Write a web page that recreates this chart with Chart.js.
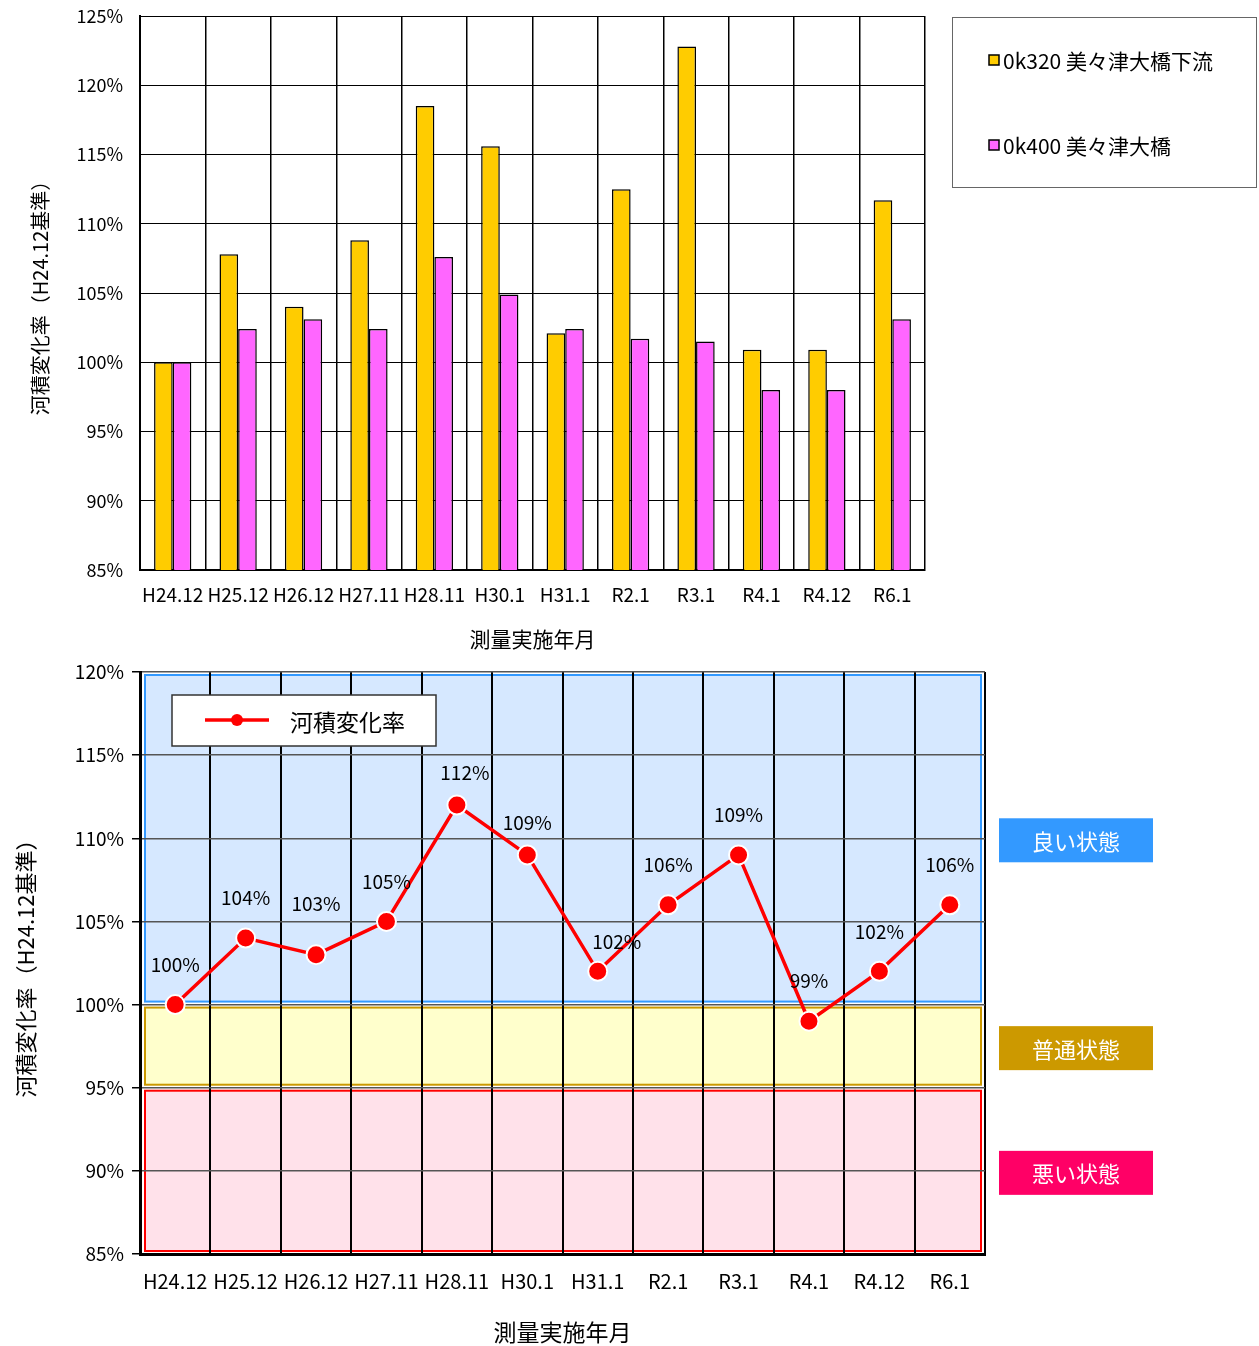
<!DOCTYPE html>
<html>
<head>
<meta charset="utf-8">
<script src="https://cdn.jsdelivr.net/npm/chart.js"></script>
<style>
body{margin:0;background:#fff;}
#box1{position:absolute;left:0;top:0;width:1259px;height:656px;}
#box2{position:absolute;left:0;top:656px;width:1259px;height:690px;}
</style>
</head>
<body>
<div id="box1"><canvas id="barChart"></canvas></div>
<div id="box2"><canvas id="lineChart"></canvas></div>
<script>
var categories = ["H24.12", "H25.12", "H26.12", "H27.11", "H28.11", "H30.1", "H31.1", "R2.1", "R3.1", "R4.1", "R4.12", "R6.1"];
var seriesNames = ["0k320 美々津大橋下流", "0k400 美々津大橋"];
var downstream = [100, 107.8, 104.0, 108.8, 118.5, 115.6, 102.1, 112.5, 122.8, 100.9, 100.9, 111.7];
var bridge = [100, 102.4, 103.1, 102.4, 107.6, 104.9, 102.4, 101.7, 101.5, 98.0, 98.0, 103.1];
var rateName = "河積変化率";
var rateValues = [100, 104, 103, 105, 112, 109, 102, 106, 109, 99, 102, 106];
var bandNames = ["良い状態", "普通状態", "悪い状態"];
var bandLow = [100, 95, 85];
var bandHigh = [120, 100, 95];
var yTitle = "河積変化率（H24.12基準）";
var xTitle = "測量実施年月";

var FONT = "'Noto Sans CJK JP', sans-serif";
Chart.defaults.font.family = FONT;
Chart.defaults.color = '#000';

// fixed axis width, and no extra room above the top tick label
function fixYAxis(s) {
  s.width = 140;
  s.paddingTop = 0;
  s.paddingBottom = 0;
}

// legend box on the right of the bar chart
var barLegend = {
  id: 'barLegend',
  afterDraw: function(chart) {
    var ctx = chart.ctx, a = chart.chartArea;
    var x = a.right + 27, y = a.top + 1;
    ctx.save();
    ctx.strokeStyle = '#666';
    ctx.lineWidth = 1;
    ctx.strokeRect(x + 0.5, y + 0.5, 304, 170);
    ctx.font = '21px ' + FONT;
    ctx.textBaseline = 'middle';
    chart.data.datasets.forEach(function(ds, i) {
      var cy = y + 43 + i * 85;
      ctx.fillStyle = ds.backgroundColor;
      ctx.fillRect(x + 37, cy - 5, 10, 10);
      ctx.strokeStyle = '#000';
      ctx.lineWidth = 1.5;
      ctx.strokeRect(x + 37, cy - 5, 10, 10);
      ctx.fillStyle = '#000';
      ctx.fillText(ds.label, x + 51, cy + 1);
    });
    ctx.restore();
  }
};

new Chart("barChart", {
  type: "bar",
  data: {
    labels: categories,
    datasets: [{
      label: seriesNames[0],
      data: downstream,
      backgroundColor: "#ffcc00",
      borderColor: "#000",
      borderWidth: 1.5,
      borderSkipped: false
    }, {
      label: seriesNames[1],
      data: bridge,
      backgroundColor: "#ff66ff",
      borderColor: "#000",
      borderWidth: 1.5,
      borderSkipped: false
    }]
  },
  plugins: [barLegend],
  options: {
    responsive: true,
    maintainAspectRatio: false,
    animation: false,
    devicePixelRatio: 1,
    layout: {padding: {top: 16, right: 334, left: 0, bottom: 0}},
    datasets: {bar: {barPercentage: 1, categoryPercentage: 0.57}},
    plugins: {legend: {display: false}, tooltip: {enabled: false}},
    scales: {
      x: {
        offset: true,
        grid: {offset: true, color: '#000', lineWidth: 1.5, drawTicks: false},
        border: {color: '#000', width: 2},
        ticks: {font: {size: 19}, padding: 13, autoSkip: false, maxRotation: 0},
        title: {display: true, text: xTitle, font: {size: 21}, padding: {top: 0, bottom: 4}},
        afterFit: function(s) { s.height = 86; }
      },
      y: {
        min: 85, max: 125,
        grid: {color: '#000', lineWidth: 1, drawTicks: false},
        border: {color: '#000', width: 2},
        ticks: {stepSize: 5, font: {size: 18}, padding: 17, callback: function(v) { return v + '%'; }},
        title: {display: true, text: yTitle, font: {size: 20}, padding: {top: 28, bottom: 0}},
        afterFit: fixYAxis
      }
    }
  }
});

// condition bands behind the grid, state tags to the right
var bandColors = [
  {fill: '#d6e8ff', line: '#3399ff', tag: '#3399ff'},
  {fill: '#ffffcc', line: '#cc9900', tag: '#cc9900'},
  {fill: '#ffe1ea', line: '#ff0000', tag: '#ff0066'}
];
var bands = {
  id: 'bands',
  beforeDraw: function(chart) {
    var ctx = chart.ctx, a = chart.chartArea, ys = chart.scales.y;
    ctx.save();
    bandNames.forEach(function(n, i) {
      var top = ys.getPixelForValue(bandHigh[i]) + 3;
      var bot = ys.getPixelForValue(bandLow[i]) - 3;
      ctx.fillStyle = bandColors[i].fill;
      ctx.fillRect(a.left + 5, top, a.right - a.left - 9, bot - top);
      ctx.strokeStyle = bandColors[i].line;
      ctx.lineWidth = 2;
      ctx.strokeRect(a.left + 5, top, a.right - a.left - 9, bot - top);
    });
    ctx.restore();
  },
  afterDraw: function(chart) {
    var ctx = chart.ctx, a = chart.chartArea, ys = chart.scales.y;
    ctx.save();
    ctx.font = '22px ' + FONT;
    ctx.textAlign = 'center';
    ctx.textBaseline = 'middle';
    bandNames.forEach(function(n, i) {
      var cy = ys.getPixelForValue((bandHigh[i] + bandLow[i]) / 2) + 2;
      ctx.fillStyle = bandColors[i].tag;
      ctx.fillRect(a.right + 14, cy - 22, 154, 44);
      ctx.fillStyle = '#fff';
      ctx.fillText(n, a.right + 91, cy + 1);
    });
    // legend inside plot
    var lx = a.left + 32, ly = a.top + 23;
    ctx.fillStyle = '#fff';
    ctx.fillRect(lx, ly, 264, 51);
    ctx.strokeStyle = '#333';
    ctx.lineWidth = 1.5;
    ctx.strokeRect(lx, ly, 264, 51);
    ctx.strokeStyle = '#ff0000';
    ctx.lineWidth = 3.5;
    ctx.beginPath();
    ctx.moveTo(lx + 33, ly + 25);
    ctx.lineTo(lx + 97, ly + 25);
    ctx.stroke();
    ctx.fillStyle = '#ff0000';
    ctx.beginPath();
    ctx.arc(lx + 65, ly + 25, 6, 0, Math.PI * 2);
    ctx.fill();
    ctx.fillStyle = '#000';
    ctx.font = '23px ' + FONT;
    ctx.textAlign = 'left';
    ctx.fillText(chart.data.datasets[0].label, lx + 118, ly + 27);
    ctx.restore();
  }
};

// value labels above points; a few are nudged like in the original
var labelNudge = {2: [0, -51], 4: [8, -32], 5: [0, -32], 6: [19, -30]};
var valueLabels = {
  id: 'valueLabels',
  afterDatasetsDraw: function(chart) {
    var ctx = chart.ctx;
    var meta = chart.getDatasetMeta(0);
    ctx.save();
    ctx.font = '19px ' + FONT;
    ctx.fillStyle = '#000';
    ctx.textAlign = 'center';
    ctx.textBaseline = 'middle';
    meta.data.forEach(function(pt, i) {
      var n = labelNudge[i] || [0, -40];
      ctx.fillText(chart.data.datasets[0].data[i] + '%', pt.x + n[0], pt.y + n[1]);
    });
    ctx.restore();
  }
};

new Chart("lineChart", {
  type: "line",
  data: {
    labels: categories,
    datasets: [{
      label: rateName,
      data: rateValues,
      borderColor: '#ff0000',
      borderWidth: 3.5,
      pointRadius: 9.5,
      pointBackgroundColor: '#ff0000',
      pointBorderColor: '#fff',
      pointBorderWidth: 2,
      tension: 0
    }]
  },
  plugins: [bands, valueLabels],
  options: {
    responsive: true,
    maintainAspectRatio: false,
    animation: false,
    devicePixelRatio: 1,
    layout: {padding: {top: 16, right: 274, left: 0, bottom: 0}},
    plugins: {legend: {display: false}, tooltip: {enabled: false}},
    scales: {
      x: {
        offset: true,
        grid: {offset: true, color: '#000', lineWidth: 2, drawTicks: false},
        border: {color: '#000', width: 3},
        ticks: {font: {size: 20}, padding: 15, autoSkip: false, maxRotation: 0},
        title: {display: true, text: xTitle, font: {size: 23}, padding: {top: 0, bottom: 0}},
        afterFit: function(s) { s.height = 92; }
      },
      y: {
        min: 85, max: 120,
        grid: {color: '#555', lineWidth: 1.5, tickLength: 8, tickColor: '#000'},
        border: {color: '#000', width: 3},
        ticks: {stepSize: 5, font: {size: 19}, padding: 8, callback: function(v) { return v + '%'; }},
        title: {display: true, text: yTitle, font: {size: 22}, padding: {top: 12, bottom: 0}},
        afterFit: fixYAxis
      }
    }
  }
});
</script>
</body>
</html>
